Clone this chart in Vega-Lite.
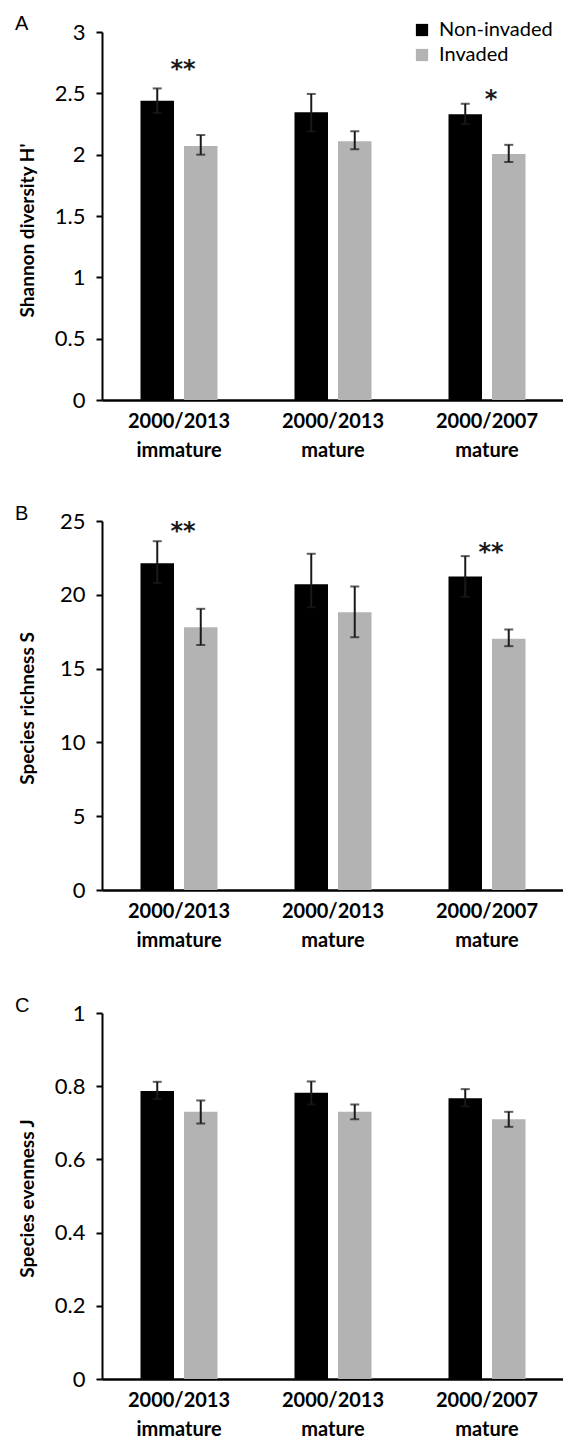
{
  "$schema": "https://vega.github.io/schema/vega-lite/v6.json",
  "background": "white",
  "padding": {"left": 15, "top": 14, "right": 0, "bottom": 0},
  "datasets": {
    "shannon": [
      {"group": "2000/2013 immature", "status": "Non-invaded", "mean": 2.44, "lo": 2.34, "hi": 2.54},
      {"group": "2000/2013 immature", "status": "Invaded", "mean": 2.07, "lo": 2.0, "hi": 2.16},
      {"group": "2000/2013 mature", "status": "Non-invaded", "mean": 2.345, "lo": 2.19, "hi": 2.495},
      {"group": "2000/2013 mature", "status": "Invaded", "mean": 2.11, "lo": 2.045, "hi": 2.19},
      {"group": "2000/2007 mature", "status": "Non-invaded", "mean": 2.33, "lo": 2.25, "hi": 2.415},
      {"group": "2000/2007 mature", "status": "Invaded", "mean": 2.005, "lo": 1.94, "hi": 2.08}
    ],
    "shannonSig": [
      {"group": "2000/2013 immature", "label": "**", "y": 2.73},
      {"group": "2000/2007 mature", "label": "*", "y": 2.49}
    ],
    "richness": [
      {"group": "2000/2013 immature", "status": "Non-invaded", "mean": 22.14, "lo": 20.8, "hi": 23.63},
      {"group": "2000/2013 immature", "status": "Invaded", "mean": 17.8, "lo": 16.6, "hi": 19.05},
      {"group": "2000/2013 mature", "status": "Non-invaded", "mean": 20.72, "lo": 19.16, "hi": 22.78},
      {"group": "2000/2013 mature", "status": "Invaded", "mean": 18.82, "lo": 17.13, "hi": 20.56},
      {"group": "2000/2007 mature", "status": "Non-invaded", "mean": 21.24, "lo": 19.86, "hi": 22.62},
      {"group": "2000/2007 mature", "status": "Invaded", "mean": 17.02, "lo": 16.52, "hi": 17.65}
    ],
    "richnessSig": [
      {"group": "2000/2013 immature", "label": "**", "y": 24.6},
      {"group": "2000/2007 mature", "label": "**", "y": 23.2}
    ],
    "evenness": [
      {"group": "2000/2013 immature", "status": "Non-invaded", "mean": 0.787, "lo": 0.765, "hi": 0.812},
      {"group": "2000/2013 immature", "status": "Invaded", "mean": 0.73, "lo": 0.698, "hi": 0.761},
      {"group": "2000/2013 mature", "status": "Non-invaded", "mean": 0.782, "lo": 0.75, "hi": 0.813},
      {"group": "2000/2013 mature", "status": "Invaded", "mean": 0.73, "lo": 0.71, "hi": 0.75},
      {"group": "2000/2007 mature", "status": "Non-invaded", "mean": 0.767, "lo": 0.745, "hi": 0.792},
      {"group": "2000/2007 mature", "status": "Invaded", "mean": 0.71, "lo": 0.689, "hi": 0.73}
    ]
  },
  "spacing": 44,
  "resolve": {"scale": {"color": "independent", "y": "independent"}},
  "vconcat": [
    {
      "width": 462,
      "height": 368,
      "title": {"text": "A", "anchor": "start", "frame": "group", "dx": -87, "dy": 14, "offset": 0, "font": "Liberation Sans", "fontSize": 20, "fontWeight": "normal", "color": "#000"},
      "layer": [
        {
          "data": {"name": "shannon"},
          "mark": {"type": "bar"},
          "encoding": {
            "x": {"field": "group", "type": "nominal", "sort": null, "title": null, "scale": {"paddingInner": 0.5, "paddingOuter": 0.25}, "axis": {"labelExpr": "split(datum.label, ' ')", "labelOverlap": false}},
            "xOffset": {"field": "status", "type": "nominal", "sort": ["Non-invaded", "Invaded"], "scale": {"paddingInner": 0.23, "paddingOuter": 0}},
            "y": {"field": "mean", "type": "quantitative", "scale": {"domain": [0, 3], "nice": false}, "axis": {"values": [0, 0.5, 1, 1.5, 2, 2.5, 3], "format": "~g", "title": "Shannon diversity H'", "titleY": 198}},
            "color": {"field": "status", "type": "nominal", "sort": ["Non-invaded", "Invaded"], "scale": {"domain": ["Non-invaded", "Invaded"], "range": ["#000000", "#b3b3b3"]}, "legend": {"orient": "none", "legendX": 310, "legendY": -12, "title": null, "symbolType": "square", "symbolSize": 150, "symbolStrokeWidth": 0, "labelFont": "Lato", "labelFontSize": 20, "labelColor": "#000", "labelOffset": 7, "rowPadding": 5}}
          }
        },
        {
          "data": {"name": "shannon"},
          "mark": {"type": "rule", "color": "#1a1a1a", "strokeWidth": 2},
          "encoding": {
            "x": {"field": "group", "type": "nominal", "sort": null},
            "xOffset": {"field": "status", "type": "nominal", "sort": ["Non-invaded", "Invaded"]},
            "y": {"field": "lo", "type": "quantitative"},
            "y2": {"field": "hi"}
          }
        },
        {
          "data": {"name": "shannon"},
          "mark": {"type": "tick", "orient": "horizontal", "color": "#1a1a1a", "size": 9, "thickness": 2},
          "encoding": {
            "x": {"field": "group", "type": "nominal", "sort": null},
            "xOffset": {"field": "status", "type": "nominal", "sort": ["Non-invaded", "Invaded"]},
            "y": {"field": "lo", "type": "quantitative"}
          }
        },
        {
          "data": {"name": "shannon"},
          "mark": {"type": "tick", "orient": "horizontal", "color": "#1a1a1a", "size": 9, "thickness": 2},
          "encoding": {
            "x": {"field": "group", "type": "nominal", "sort": null},
            "xOffset": {"field": "status", "type": "nominal", "sort": ["Non-invaded", "Invaded"]},
            "y": {"field": "hi", "type": "quantitative"}
          }
        },
        {
          "data": {"name": "shannonSig"},
          "mark": {"type": "text", "font": "DejaVu Sans", "fontWeight": "bold", "fontSize": 24, "color": "#1a1a1a", "baseline": "middle", "dx": 4, "dy": 5},
          "encoding": {
            "x": {"field": "group", "type": "nominal", "sort": null},
            "y": {"field": "y", "type": "quantitative"},
            "text": {"field": "label"}
          }
        }
      ]
    },
    {
      "spacing": 46,
      "resolve": {"scale": {"color": "independent", "y": "independent"}},
      "vconcat": [
        {
          "width": 462,
          "height": 369,
          "title": {"text": "B", "anchor": "start", "frame": "group", "dx": -87, "dy": 14, "offset": 0, "font": "Liberation Sans", "fontSize": 20, "fontWeight": "normal", "color": "#000"},
          "layer": [
            {
              "data": {"name": "richness"},
              "mark": {"type": "bar"},
              "encoding": {
                "x": {"field": "group", "type": "nominal", "sort": null, "title": null, "scale": {"paddingInner": 0.5, "paddingOuter": 0.25}, "axis": {"labelExpr": "split(datum.label, ' ')", "labelOverlap": false}},
                "xOffset": {"field": "status", "type": "nominal", "sort": ["Non-invaded", "Invaded"], "scale": {"paddingInner": 0.23, "paddingOuter": 0}},
                "y": {"field": "mean", "type": "quantitative", "scale": {"domain": [0, 25], "nice": false}, "axis": {"values": [0, 5, 10, 15, 20, 25], "format": "~g", "title": "Species richness S", "titleY": 187}},
                "color": {"field": "status", "type": "nominal", "scale": {"domain": ["Non-invaded", "Invaded"], "range": ["#000000", "#b3b3b3"]}, "legend": null}
              }
            },
            {
              "data": {"name": "richness"},
              "mark": {"type": "rule", "color": "#1a1a1a", "strokeWidth": 2},
              "encoding": {
                "x": {"field": "group", "type": "nominal", "sort": null},
                "xOffset": {"field": "status", "type": "nominal", "sort": ["Non-invaded", "Invaded"]},
                "y": {"field": "lo", "type": "quantitative"},
                "y2": {"field": "hi"}
              }
            },
            {
              "data": {"name": "richness"},
              "mark": {"type": "tick", "orient": "horizontal", "color": "#1a1a1a", "size": 9, "thickness": 2},
              "encoding": {
                "x": {"field": "group", "type": "nominal", "sort": null},
                "xOffset": {"field": "status", "type": "nominal", "sort": ["Non-invaded", "Invaded"]},
                "y": {"field": "lo", "type": "quantitative"}
              }
            },
            {
              "data": {"name": "richness"},
              "mark": {"type": "tick", "orient": "horizontal", "color": "#1a1a1a", "size": 9, "thickness": 2},
              "encoding": {
                "x": {"field": "group", "type": "nominal", "sort": null},
                "xOffset": {"field": "status", "type": "nominal", "sort": ["Non-invaded", "Invaded"]},
                "y": {"field": "hi", "type": "quantitative"}
              }
            },
            {
              "data": {"name": "richnessSig"},
              "mark": {"type": "text", "font": "DejaVu Sans", "fontWeight": "bold", "fontSize": 24, "color": "#1a1a1a", "baseline": "middle", "dx": 4, "dy": 5},
              "encoding": {
                "x": {"field": "group", "type": "nominal", "sort": null},
                "y": {"field": "y", "type": "quantitative"},
                "text": {"field": "label"}
              }
            }
          ]
        },
        {
          "width": 462,
          "height": 366,
          "title": {"text": "C", "anchor": "start", "frame": "group", "dx": -87, "dy": 14, "offset": 0, "font": "Liberation Sans", "fontSize": 20, "fontWeight": "normal", "color": "#000"},
          "layer": [
            {
              "data": {"name": "evenness"},
              "mark": {"type": "bar"},
              "encoding": {
                "x": {"field": "group", "type": "nominal", "sort": null, "title": null, "scale": {"paddingInner": 0.5, "paddingOuter": 0.25}, "axis": {"labelExpr": "split(datum.label, ' ')", "labelOverlap": false}},
                "xOffset": {"field": "status", "type": "nominal", "sort": ["Non-invaded", "Invaded"], "scale": {"paddingInner": 0.23, "paddingOuter": 0}},
                "y": {"field": "mean", "type": "quantitative", "scale": {"domain": [0, 1], "nice": false}, "axis": {"values": [0, 0.2, 0.4, 0.6, 0.8, 1], "format": "~g", "title": "Species evenness J", "titleY": 185}},
                "color": {"field": "status", "type": "nominal", "scale": {"domain": ["Non-invaded", "Invaded"], "range": ["#000000", "#b3b3b3"]}, "legend": null}
              }
            },
            {
              "data": {"name": "evenness"},
              "mark": {"type": "rule", "color": "#1a1a1a", "strokeWidth": 2},
              "encoding": {
                "x": {"field": "group", "type": "nominal", "sort": null},
                "xOffset": {"field": "status", "type": "nominal", "sort": ["Non-invaded", "Invaded"]},
                "y": {"field": "lo", "type": "quantitative"},
                "y2": {"field": "hi"}
              }
            },
            {
              "data": {"name": "evenness"},
              "mark": {"type": "tick", "orient": "horizontal", "color": "#1a1a1a", "size": 9, "thickness": 2},
              "encoding": {
                "x": {"field": "group", "type": "nominal", "sort": null},
                "xOffset": {"field": "status", "type": "nominal", "sort": ["Non-invaded", "Invaded"]},
                "y": {"field": "lo", "type": "quantitative"}
              }
            },
            {
              "data": {"name": "evenness"},
              "mark": {"type": "tick", "orient": "horizontal", "color": "#1a1a1a", "size": 9, "thickness": 2},
              "encoding": {
                "x": {"field": "group", "type": "nominal", "sort": null},
                "xOffset": {"field": "status", "type": "nominal", "sort": ["Non-invaded", "Invaded"]},
                "y": {"field": "hi", "type": "quantitative"}
              }
            }
          ]
        }
      ]
    }
  ],
  "config": {
    "view": {"stroke": null},
    "font": "Lato",
    "axis": {"grid": false, "domainColor": "#000", "tickColor": "#000", "labelColor": "#000", "titleColor": "#000", "labelFont": "Lato", "titleFont": "Lato"},
    "axisX": {"domainWidth": 2.5, "ticks": false, "labelAngle": 0, "labelFontSize": 20, "labelFontWeight": "bold", "labelPadding": 11, "labelLineHeight": 29},
    "axisY": {"domainWidth": 2, "tickSize": 6, "tickWidth": 2, "labelFontSize": 22, "labelPadding": 11, "titleFontSize": 19, "titleFontWeight": "bold", "titleX": -75, "titleBaseline": "middle"}
  }
}
